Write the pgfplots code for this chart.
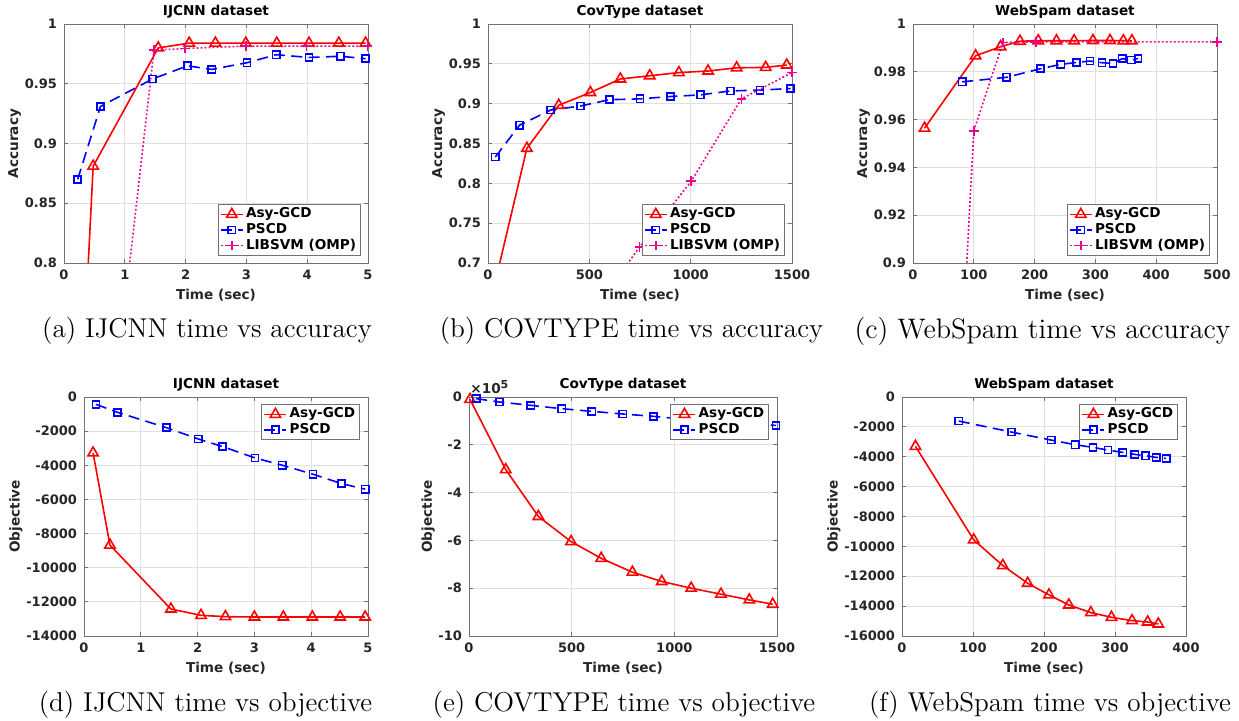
\documentclass[border=0pt]{standalone}
\usepackage{fontspec}
\usepackage{pgfplots}
\pgfplotsset{compat=1.18}
\newfontfamily\dvs{DejaVu Sans}
\newcommand\tickf{\dvs\bfseries\fontsize{6.5}{7.5}\selectfont}
\newcommand\labf{\dvs\bfseries\fontsize{6.8}{8}\selectfont}
\newcommand\capf{\fontsize{13.6}{16}\selectfont}
\pgfplotsset{
  mat/.style={
    scale only axis, anchor=south west, height=119.5pt,
    axis line style={draw=black!55, line width=0.4pt},
    grid=major, major grid style={black!12, line width=0.4pt},
    tick align=inside, major tick length=2pt,
    tick style={black!55, line width=0.4pt},
    ticklabel style={font=\tickf, text=black!85},
    label style={font=\labf, text=black!85},
    every axis title/.style={at={(0.5,1)}, anchor=south, inner sep=0pt, yshift=2.6pt, font=\labf, text=black},
    ylabel shift=-5pt, xlabel shift=-2pt,
    /pgf/number format/assume math mode=true,
    /pgf/number format/1000 sep={},
    scaled ticks=false,
    legend cell align=left,
    legend style={draw=black!55, line width=0.4pt, fill=white, font=\labf,
      inner xsep=1pt, inner ysep=0.5pt, row sep=-1.2pt,
      nodes={inner sep=1.2pt, text=black}},
    legend image code/.code={\draw[mark repeat=2,mark phase=2] plot coordinates {(0pt,0pt) (5.5pt,0pt) (11pt,0pt)};},
  },
  legSE/.style={legend style={at={(1,0)}, anchor=south east, xshift=-3.5pt, yshift=3.5pt}},
  legNE/.style={legend style={at={(1,1)}, anchor=north east, xshift=-4pt, yshift=-3.5pt}},
  asy/.style={red, line width=0.8pt, mark=triangle, mark size=3pt, mark options={solid}},
  pscd/.style={blue, line width=0.8pt, dash pattern=on 5.5pt off 3.2pt, mark=square, mark size=1.8pt, mark options={solid}},
  lib/.style={magenta, line width=0.8pt, dash pattern=on 0.9pt off 1.1pt, mark=+, mark size=2.4pt, mark options={solid}},
}
\begin{document}
\begin{tikzpicture}
\useasboundingbox (0,0) rectangle (619.5pt,-360.5pt);
% (a)
\begin{axis}[mat, legSE, at={(32pt,-131.5pt)}, width=152pt, title={IJCNN dataset},
  xmin=0, xmax=5, ymin=0.8, ymax=1, xtick={0,1,2,3,4,5}, ytick={0.8,0.85,0.9,0.95,1},
  xlabel={Time (sec)}, ylabel={Accuracy}]
\addplot[asy] coordinates {(0.15,0.55) (0.48,0.881) (1.55,0.980) (2.06,0.984) (2.49,0.984) (2.99,0.984) (3.5,0.984) (4.03,0.984) (4.52,0.984) (4.96,0.984)};
\addplot[pscd] coordinates {(0.225,0.870) (0.60,0.931) (1.457,0.954) (2.03,0.965) (2.43,0.962) (3.01,0.9676) (3.49,0.9743) (4.03,0.972) (4.55,0.973) (4.96,0.971)};
\addplot[lib] coordinates {(1.0,0.764) (1.48,0.978) (1.99,0.9795) (2.99,0.9815) (3.99,0.9815) (4.99,0.9815)};
\legend{Asy-GCD, PSCD, LIBSVM (OMP)}
\end{axis}
% (b)
\begin{axis}[mat, legSE, at={(244pt,-131.5pt)}, width=152pt, title={CovType dataset},
  xmin=0, xmax=1500, ymin=0.7, ymax=1, xtick={0,500,1000,1500}, ytick={0.7,0.75,0.8,0.85,0.9,0.95,1},
  xlabel={Time (sec)}, ylabel={Accuracy}]
\addplot[asy] coordinates {(30,0.670) (192,0.844) (349,0.898) (505,0.914) (653,0.931) (798,0.935) (942,0.939) (1086,0.941) (1227,0.945) (1370,0.9455) (1474,0.9485)};
\addplot[pscd] coordinates {(36,0.833) (156,0.873) (309,0.892) (456,0.897) (600,0.905) (750,0.906) (901,0.909) (1048,0.911) (1196,0.916) (1342,0.917) (1493,0.919)};
\addplot[lib] coordinates {(500,0.633) (748,0.720) (1003,0.8027) (1250,0.906) (1500,0.939)};
\legend{Asy-GCD, PSCD, LIBSVM (OMP)}
\end{axis}
% (c)
\begin{axis}[mat, legSE, at={(456.5pt,-131.5pt)}, width=152pt, title={WebSpam dataset},
  xmin=0, xmax=500, ymin=0.9, ymax=1, xtick={0,100,200,300,400,500}, ytick={0.9,0.92,0.94,0.96,0.98,1},
  xlabel={Time (sec)}, ylabel={Accuracy}]
\addplot[asy] coordinates {(19,0.9564) (103,0.9867) (144,0.9905) (176,0.9928) (206,0.9930) (236,0.9930) (265,0.9930) (296,0.9931) (324,0.9931) (346,0.9930) (360,0.9930)};
\addplot[pscd] coordinates {(81,0.9758) (154,0.9777) (210,0.9813) (243,0.9831) (269,0.9839) (291,0.9845) (311,0.9838) (329,0.9835) (344,0.9855) (359,0.9849) (370,0.9856)};
\addplot[lib] coordinates {(80,0.86) (100,0.9553) (148,0.9923) (202,0.9925) (500,0.9925)};
\legend{Asy-GCD, PSCD, LIBSVM (OMP)}
\end{axis}
% (d)
\begin{axis}[mat, legNE, at={(42pt,-318pt)}, width=142pt, title={IJCNN dataset},
  xmin=0, xmax=5, ymin=-14000, ymax=0, xtick={0,1,2,3,4,5}, ytick={-14000,-12000,-10000,-8000,-6000,-4000,-2000,0},
  xlabel={Time (sec)}, ylabel={Objective}]
\addplot[asy] coordinates {(0.16,-3276) (0.457,-8676) (1.53,-12420) (2.06,-12790) (2.49,-12868) (3.0,-12888) (3.51,-12890) (4.02,-12890) (4.51,-12890) (4.95,-12890)};
\addplot[pscd] coordinates {(0.21,-429) (0.59,-897) (1.45,-1794) (2.01,-2457) (2.44,-2905) (3.01,-3568) (3.49,-3997) (4.03,-4523) (4.53,-5069) (4.95,-5401)};
\legend{Asy-GCD, PSCD}
\end{axis}
% (e)
\begin{axis}[mat, legNE, clip mode=individual, at={(234.5pt,-318pt)}, width=154pt, title={CovType dataset},
  xmin=0, xmax=1500, ymin=-10, ymax=0, xtick={0,500,1000,1500}, ytick={-10,-8,-6,-4,-2,0},
  xlabel={Time (sec)}, ylabel={Objective}]
\addplot[asy] coordinates {(5,-0.10) (179,-3.04) (338,-5.0) (497,-6.05) (644,-6.75) (796,-7.33) (939,-7.72) (1082,-8.0) (1227,-8.25) (1365,-8.49) (1479,-8.67)};
\addplot[pscd] coordinates {(35,-0.07) (148,-0.21) (301,-0.35) (452,-0.49) (598,-0.60) (749,-0.71) (899,-0.81) (1049,-0.93) (1198,-1.03) (1347,-1.11) (1495,-1.19)};
\legend{Asy-GCD, PSCD}
\node[font=\labf, text=black!85, anchor=south west, inner sep=0pt, xshift=0.5pt, yshift=1.5pt] at (rel axis cs:0,1) {×10\raisebox{0.7ex}{\fontsize{5.5}{6}\selectfont 5}};
\end{axis}
% (f)
\begin{axis}[mat, legNE, at={(451pt,-318pt)}, width=142pt, title={WebSpam dataset},
  xmin=0, xmax=400, ymin=-16000, ymax=0, xtick={0,100,200,300,400}, ytick={-16000,-14000,-12000,-10000,-8000,-6000,-4000,-2000,0},
  xlabel={Time (sec)}, ylabel={Objective}]
\addplot[asy] coordinates {(19,-3307) (101,-9564) (142,-11285) (177,-12469) (207,-13251) (235,-13922) (266,-14436) (295,-14749) (324,-14972) (346,-15061) (361,-15196)};
\addplot[pscd] coordinates {(80,-1609) (154,-2346) (210,-2883) (244,-3196) (269,-3374) (290,-3553) (311,-3709) (328,-3844) (343,-3933) (358,-4045) (372,-4112)};
\legend{Asy-GCD, PSCD}
\end{axis}
% captions
\node[font=\capf] at (103.5pt,-165.5pt) {(a) IJCNN time vs accuracy};
\node[font=\capf] at (315.75pt,-165.5pt) {(b) COVTYPE time vs accuracy};
\node[font=\fontsize{14.1}{16}\selectfont] at (521.25pt,-165.5pt) {(c) WebSpam time vs accuracy};
\node[font=\capf] at (102.75pt,-352.5pt) {(d) IJCNN time vs objective};
\node[font=\capf] at (312pt,-352.5pt) {(e) COVTYPE time vs objective};
\node[font=\capf] at (525pt,-352.5pt) {(f) WebSpam time vs objective};
\end{tikzpicture}
\end{document}
